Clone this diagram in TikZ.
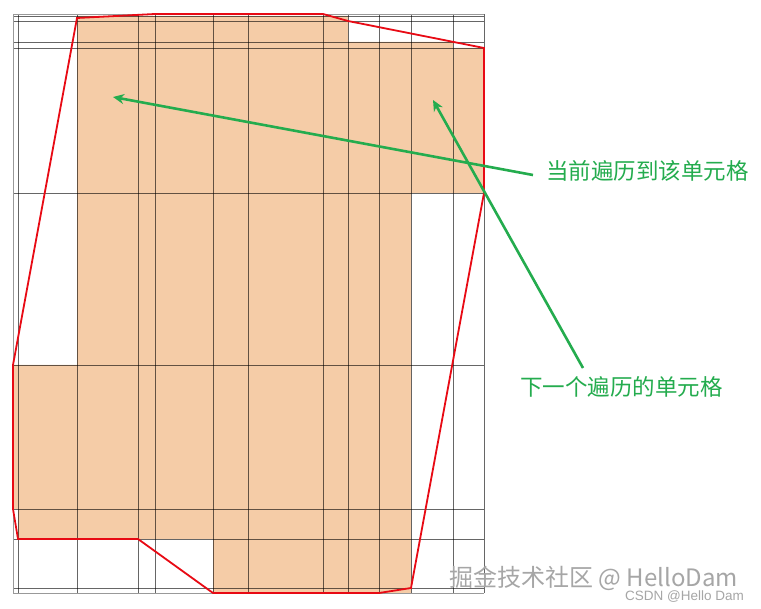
\documentclass[tikz,border=0pt]{standalone}
\usepackage{fontspec}
\usepackage{tikz}
\usetikzlibrary{arrows.meta}
\newfontfamily\cjk{Noto Sans CJK SC}
\newfontfamily\wmfont{Liberation Sans}
\definecolor{cellfill}{RGB}{245,204,167}
\definecolor{hullred}{RGB}{232,10,20}
\definecolor{notegreen}{RGB}{36,172,78}
\tikzstyle{gridline}=[draw=black, draw opacity=0.6, line width=0.55pt]
\tikzstyle{rim}=[draw=black!40, line width=0.8pt]
\tikzstyle{hull}=[draw=hullred, line width=1.8pt, line join=miter]
\tikzstyle{pointer}=[draw=notegreen, line width=2.6pt, -{Stealth[length=11pt,width=10pt]}]
\tikzstyle{note}=[text=notegreen, inner sep=0pt, font=\cjk\fontsize{22.5}{26}\selectfont]
\tikzstyle{wmark}=[text=black!35, inner sep=0pt]

\begin{document}
\begin{tikzpicture}[x=1pt,y=-1pt]
	%The canvas
	\fill[white] (0,0) rectangle (761,609);
	\useasboundingbox (0,0) rectangle (761,609);

	%The visited cells
	\fill[cellfill] (77,16) -- (348,16) -- (348,42) -- (453,42) -- (453,48)
		-- (484,48) -- (484,193) -- (411,193) -- (411,593) -- (213,593)
		-- (213,539) -- (18,539) -- (18,509) -- (13,509) -- (13,365)
		-- (77,365) -- cycle;

	%The grid
	\foreach \x in {18,77,138,155,213,248,323,348,379,411,453,484}
		\draw[gridline] (\x,14) -- (\x,593);
	\foreach \y in {16,21,42,48,193,365,509,539,588}
		\draw[gridline] (13,\y) -- (484,\y);
	\draw[rim] (13,14) -- (484,14);
	\draw[rim] (13,593) -- (484,593);
	\draw[rim] (13,14) -- (13,593);

	%The hull
	\draw[hull] (77,18) -- (155,14) -- (323,14) -- (348,21) -- (484,48)
		-- (484,193) -- (411,588) -- (379,593) -- (213,593) -- (138,539)
		-- (18,539) -- (13,509) -- (13,365) -- cycle;

	%The labels
	\node[note, anchor=west] (cur) at (546,171) {当前遍历到该单元格};
	\node[note, anchor=west] (next) at (520,387) {下一个遍历的单元格};

	%The pointers
	\coordinate (curfrom) at (533,175);
	\coordinate (curcell) at (113,97);
	\coordinate (nextfrom) at (583,368);
	\coordinate (nextcell) at (433,100);
	\draw[pointer] (curfrom) -- (curcell);
	\draw[pointer] (nextfrom) -- (nextcell);

	%The watermark
	\node[wmark, anchor=west, font=\cjk\fontsize{24}{27}\selectfont] (wm) at (449,578) {掘金技术社区 @ HelloDam};
	\node[wmark, anchor=east, font=\wmfont\fontsize{13.5}{15}\selectfont] (csdn) at (744,597) {CSDN @Hello Dam};
\end{tikzpicture}
\end{document}
